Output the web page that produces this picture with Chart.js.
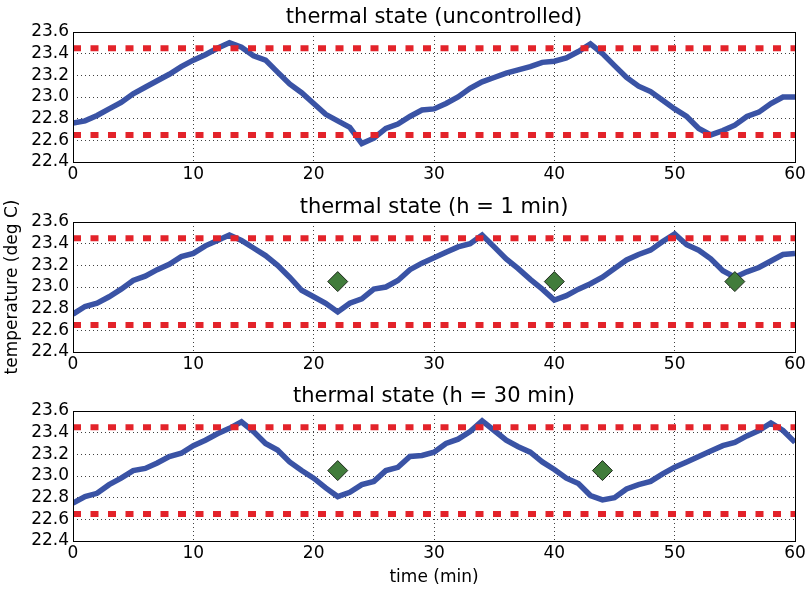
<!DOCTYPE html>
<html>
<head>
<meta charset="utf-8">
<script src="https://cdn.jsdelivr.net/npm/chart.js@4"></script>
<style>
  body { margin: 0; background: #fff; }
  #wrap { position: relative; width: 810px; height: 591px; }
  canvas { position: absolute; left: 0; }
</style>
</head>
<body>
<div id="wrap">
  <canvas id="c1" width="810" height="190" style="top:0px"></canvas>
  <canvas id="c2" width="810" height="190" style="top:190px"></canvas>
  <canvas id="c3" width="810" height="212" style="top:379px"></canvas>
</div>
<script>
// time axis (minutes)
const minutes = [0,1,2,3,4,5,6,7,8,9,10,11,12,13,14,15,16,17,18,19,20,
  21,22,23,24,25,26,27,28,29,30,31,32,33,34,35,36,37,38,39,40,
  41,42,43,44,45,46,47,48,49,50,51,52,53,54,55,56,57,58,59,60];

// temperature readings (deg C), one per minute
const tempUncontrolled = [22.76,22.78,22.83,22.89,22.95,23.03,23.09,23.15,23.21,23.28,23.34,
  23.39,23.45,23.50,23.46,23.38,23.34,23.23,23.12,23.04,22.94,
  22.84,22.78,22.72,22.57,22.62,22.71,22.75,22.82,22.88,22.89,
  22.94,23.00,23.08,23.14,23.18,23.22,23.25,23.28,23.32,23.33,
  23.36,23.42,23.49,23.40,23.29,23.18,23.10,23.05,22.97,22.89,
  22.82,22.71,22.65,22.69,22.74,22.82,22.86,22.94,23.00,23.00];

const tempH1 = [22.75,22.82,22.85,22.91,22.98,23.06,23.10,23.16,23.21,23.28,23.31,
  23.38,23.43,23.48,23.43,23.36,23.29,23.20,23.09,22.97,22.91,
  22.85,22.77,22.85,22.89,22.98,23.00,23.06,23.16,23.22,23.27,
  23.32,23.37,23.40,23.48,23.37,23.26,23.17,23.07,22.98,22.88,
  22.92,22.98,23.03,23.09,23.17,23.25,23.30,23.34,23.42,23.49,
  23.39,23.34,23.26,23.15,23.09,23.14,23.18,23.24,23.30,23.31];

const tempH30 = [22.75,22.81,22.84,22.92,22.98,23.05,23.07,23.12,23.18,23.21,23.28,
  23.33,23.39,23.44,23.50,23.41,23.30,23.24,23.13,23.05,22.98,
  22.89,22.81,22.85,22.92,22.95,23.05,23.08,23.18,23.19,23.22,
  23.30,23.34,23.41,23.51,23.42,23.33,23.27,23.22,23.13,23.06,
  22.98,22.93,22.82,22.78,22.80,22.88,22.92,22.95,23.02,23.08,
  23.13,23.18,23.23,23.28,23.31,23.37,23.42,23.49,23.42,23.31];

// comfort band limits
const bounds = [22.65, 23.45];

// decision markers (minutes)
const markersUncontrolled = [];
const markersH1 = [22, 40, 55];
const markersH30 = [22, 44];
const markerTemp = 23.05;

const xTicks = [0, 10, 20, 30, 40, 50, 60];
const yTicks = [22.4, 22.6, 22.8, 23.0, 23.2, 23.4, 23.6];

const titles = ['thermal state (uncontrolled)', 'thermal state (h = 1 min)', 'thermal state (h = 30 min)'];

Chart.defaults.font.family = "'DejaVu Sans', sans-serif";
Chart.defaults.color = '#000';

// black box around the plot area
const framePlugin = {
  id: 'frame',
  afterDraw(chart) {
    const a = chart.chartArea;
    const ctx = chart.ctx;
    ctx.save();
    ctx.strokeStyle = '#000';
    ctx.lineWidth = 1;
    ctx.strokeRect(Math.round(a.left) + 0.5, Math.round(a.top) + 0.5,
      Math.round(a.right - a.left), Math.round(a.bottom - a.top));
    ctx.restore();
  }
};

function makePanel(id, title, temps, markers, yTitle, xTitle, xAxisHeight) {
  const lineData = minutes.map((m, i) => ({ x: m, y: temps[i] }));
  const bandSets = bounds.map(b => ({
    type: 'line',
    data: [{ x: xTicks[0], y: b }, { x: xTicks[xTicks.length - 1], y: b }],
    borderColor: '#e3232a',
    borderWidth: 6,
    borderDash: [8, 9.5],
    pointRadius: 0,
    tension: 0
  }));

  new Chart(document.getElementById(id), {
    type: 'line',
    data: {
      datasets: [
        {
          type: 'scatter',
          data: markers.map(m => ({ x: m, y: markerTemp })),
          pointStyle: 'rectRot',
          pointRadius: 10,
          backgroundColor: '#417c3b',
          borderColor: '#1e2a1c',
          borderWidth: 1
        },
        ...bandSets,
        {
          data: lineData,
          borderColor: '#3a53a5',
          borderWidth: 5.5,
          pointRadius: 0,
          tension: 0
        }
      ]
    },
    options: {
      responsive: false,
      animation: false,
      events: [],
      layout: { padding: { left: 0, right: 15, top: 0, bottom: 0 } },
      plugins: {
        legend: { display: false },
        tooltip: { enabled: false },
        title: {
          display: true,
          text: title,
          fullSize: false,
          font: { size: 21, weight: 'normal' },
          padding: { top: 4.5, bottom: 2.3 }
        }
      },
      scales: {
        x: {
          type: 'linear',
          min: 0,
          max: 60,
          afterBuildTicks: s => { s.ticks = xTicks.map(v => ({ value: v })); },
          afterFit: s => { s.height = xAxisHeight; },
          ticks: { font: { size: 17 }, padding: 2, maxRotation: 0, autoSkip: false },
          grid: { color: 'rgba(0,0,0,0.75)', lineWidth: 1, drawTicks: false },
          border: { display: false, dash: [1, 3] },
          title: {
            display: !!xTitle,
            text: xTitle || '',
            font: { size: 17 },
            padding: { top: 0, bottom: 3 }
          }
        },
        y: {
          type: 'linear',
          min: 22.4,
          max: 23.6,
          afterBuildTicks: s => { s.ticks = yTicks.map(v => ({ value: v })); },
          afterFit: s => { s.width = 73; },
          ticks: { font: { size: 17 }, padding: 4, autoSkip: false, callback: v => v.toFixed(1) },
          grid: { color: 'rgba(0,0,0,0.75)', lineWidth: 1, drawTicks: false },
          border: { display: false, dash: [1, 3] },
          title: {
            display: !!yTitle,
            text: yTitle || '',
            font: { size: 17 },
            padding: { top: 2.3, bottom: 0 }
          }
        }
      }
    },
    plugins: [framePlugin]
  });
}

makePanel('c1', titles[0], tempUncontrolled, markersUncontrolled, null, null, 28);
makePanel('c2', titles[1], tempH1, markersH1, 'temperature (deg C)', null, 28);
makePanel('c3', titles[2], tempH30, markersH30, null, 'time (min)', 50);
</script>
</body>
</html>
